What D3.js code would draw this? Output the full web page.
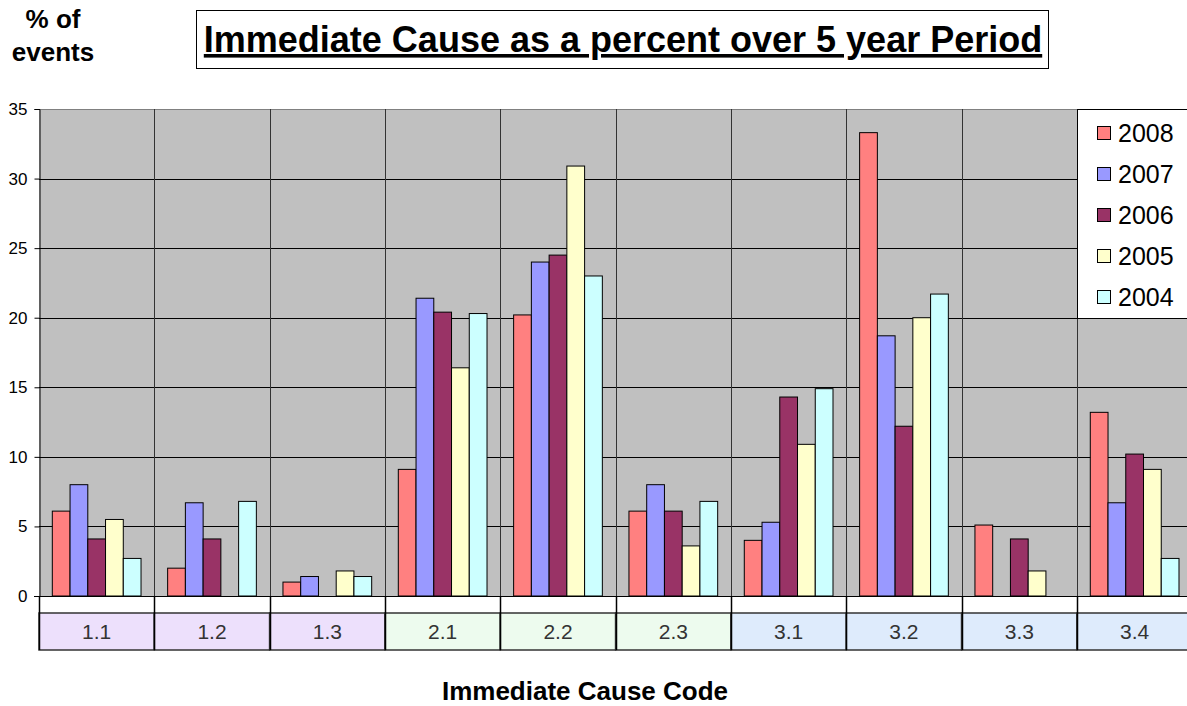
<!DOCTYPE html>
<html><head><meta charset="utf-8">
<script src="https://cdn.jsdelivr.net/npm/d3@7"></script>
<style>body{margin:0;background:#fff}svg{display:block;font-family:"Liberation Sans",Arial,sans-serif}</style>
</head><body><svg id="c" width="1187" height="706"></svg>
<script>
const categories = ["1.1","1.2","1.3","2.1","2.2","2.3","3.1","3.2","3.3","3.4"];
const years = ["2008","2007","2006","2005","2004"];
const v2008 = [6.1, 2.0, 1.0, 9.1, 20.2, 6.1, 4.0, 33.3, 5.1, 13.2];
const v2007 = [8.0, 6.7, 1.4, 21.4, 24.0, 8.0, 5.3, 18.7, 0, 6.7];
const v2006 = [4.1, 4.1, 0, 20.4, 24.5, 6.1, 14.3, 12.2, 4.1, 10.2];
const v2005 = [5.5, 0, 1.8, 16.4, 30.9, 3.6, 10.9, 20.0, 1.8, 9.1];
const v2004 = [2.7, 6.8, 1.4, 20.3, 23.0, 6.8, 14.9, 21.7, 0, 2.7];
const yTicks = [0,5,10,15,20,25,30,35];
const seriesValues = [v2008, v2007, v2006, v2005, v2004];
const colors = ["#FF8080","#9999FF","#993366","#FFFFCC","#CCFFFF"];
const catGroupColors = {"1":"#EDE0FC","2":"#EDFBEE","3":"#DEEBFC"};

const svg = d3.select("#c");
const L = 39, T = 109, B = 596, R = 39 + 115.33*10;
const x0 = d3.scaleBand().domain(categories).range([L, R]).padding(0);
const x1 = d3.scaleBand().domain(years).range([0, x0.bandwidth()]).paddingInner(0).paddingOuter(0.75);
const y = d3.scaleLinear().domain([0,35]).range([B, T]);

// plot background
svg.append("rect").attr("x",L).attr("y",T).attr("width",R-L).attr("height",B-T).attr("fill","#C0C0C0");
svg.append("line").attr("x1",L).attr("x2",R).attr("y1",T+0.5).attr("y2",T+0.5).attr("stroke","#808080");
// horizontal grid
svg.append("g").selectAll("line").data(yTicks.filter(d=>d>0 && d<35)).join("line")
  .attr("x1",L).attr("x2",R).attr("y1",d=>Math.round(y(d))+0.5).attr("y2",d=>Math.round(y(d))+0.5)
  .attr("stroke","#000").attr("stroke-width",1);
// vertical grid at category boundaries
svg.append("g").selectAll("line").data(categories.slice(1)).join("line")
  .attr("x1",d=>Math.round(x0(d))+0.5).attr("x2",d=>Math.round(x0(d))+0.5)
  .attr("y1",T).attr("y2",B).attr("stroke","#333").attr("stroke-width",1);

// bars
const g = svg.append("g");
categories.forEach((c,i)=>{
  years.forEach((yr,j)=>{
    const v = seriesValues[j][i];
    if (!v) return;
    g.append("rect")
      .attr("x", x0(c)+x1(yr)).attr("width", x1.bandwidth())
      .attr("y", y(v)).attr("height", y(0)-y(v))
      .attr("fill", colors[j]).attr("stroke","#000").attr("stroke-width",1);
  });
});

// y axis
const yAxis = svg.append("g").attr("transform",`translate(${L+0.5},0)`)
  .call(d3.axisLeft(y).tickValues(yTicks).tickSize(5).tickPadding(7));
yAxis.select(".domain").attr("stroke","#000");
yAxis.selectAll("text").attr("font-size","17px").attr("fill","#000").attr("font-family","Liberation Sans, Arial, sans-serif");
// x axis baseline
svg.append("line").attr("x1",L-5).attr("x2",R).attr("y1",B+0.5).attr("y2",B+0.5).attr("stroke","#000");

// category label table
const tb = svg.append("g");
tb.selectAll("rect.box").data(categories).join("rect").attr("class","box")
  .attr("x",d=>x0(d)).attr("y",613).attr("width",x0.bandwidth()).attr("height",37)
  .attr("fill",d=>catGroupColors[d[0]]).attr("stroke","#333").attr("stroke-width",1.5);
tb.selectAll("line.sep").data(categories).join("line").attr("class","sep")
  .attr("x1",d=>Math.round(x0(d))+0.5).attr("x2",d=>Math.round(x0(d))+0.5)
  .attr("y1",B).attr("y2",650).attr("stroke","#000").attr("stroke-width",1.5);
tb.selectAll("text").data(categories).join("text")
  .attr("x",d=>x0(d)+x0.bandwidth()/2).attr("y",639).attr("text-anchor","middle")
  .attr("font-size","21px").attr("fill","#333").text(d=>d);

// legend
const lg = svg.append("g");
lg.append("rect").attr("x",1077.5).attr("y",109.5).attr("width",120).attr("height",209).attr("fill","#fff").attr("stroke","#000");
years.forEach((yr,j)=>{
  const cy = 133 + j*41;
  lg.append("rect").attr("x",1097.5).attr("y",cy-6.5).attr("width",13).attr("height",13).attr("fill",colors[j]).attr("stroke","#000");
  lg.append("text").attr("x",1118).attr("y",cy+9).attr("font-size","25px").attr("fill","#000").text(yr);
});

// title
svg.append("rect").attr("x",196.5).attr("y",10.5).attr("width",852).attr("height",58).attr("fill","#fff").attr("stroke","#000");
svg.append("text").attr("x",623).attr("y",52).attr("text-anchor","middle").attr("font-size","36px").attr("font-weight","bold")
  .attr("text-decoration","underline").attr("fill","#000").text("Immediate Cause as a percent over 5 year Period");

// y title
svg.append("text").attr("x",53).attr("y",28).attr("text-anchor","middle").attr("font-size","26px").attr("font-weight","bold").text("% of");
svg.append("text").attr("x",53).attr("y",61).attr("text-anchor","middle").attr("font-size","26px").attr("font-weight","bold").text("events");
// x title
svg.append("text").attr("x",585).attr("y",700).attr("text-anchor","middle").attr("font-size","26px").attr("font-weight","bold").text("Immediate Cause Code");
</script></body></html>
